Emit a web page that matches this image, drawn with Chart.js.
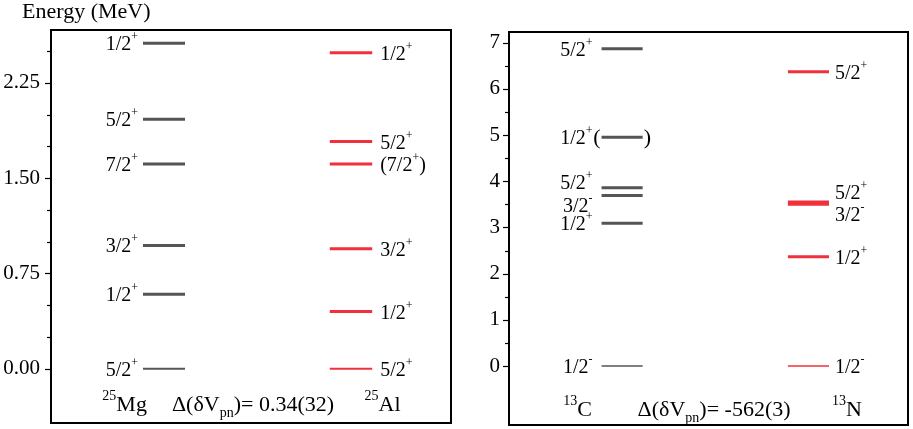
<!DOCTYPE html>
<html>
<head>
<meta charset="utf-8">
<script src="https://cdn.jsdelivr.net/npm/chart.js@4/dist/chart.umd.min.js"></script>
<style>
  body { margin: 0; background: #fff; }
  #wrap { position: relative; width: 913px; height: 429px; }
  canvas { position: absolute; top: 0; }
</style>
</head>
<body>
<div id="wrap">
  <canvas id="left" width="460" height="429" style="left:0"></canvas>
  <canvas id="right" width="453" height="429" style="left:460px"></canvas>
</div>
<script>
// level energies (MeV) and spin-parity labels
const mgEnergy = [0, 0.586, 0.970, 1.612, 1.964, 2.563];
const mgSpin = ['5/2+', '1/2+', '3/2+', '7/2+', '5/2+', '1/2+'];
const alEnergy = [0, 0.450, 0.944, 1.612, 1.788, 2.487];
const alSpin = ['5/2+', '1/2+', '3/2+', '(7/2+)', '5/2+', '1/2+'];

const cEnergy = [0, 3.09, 3.69, 3.86, 4.95, 6.87];
const cSpin = ['1/2-', '1/2+', '3/2-', '5/2+', '1/2+', '5/2+'];
const nEnergy = [0, 2.366, 3.50, 3.55, 6.37];
const nSpin = ['1/2-', '1/2+', '3/2-', '5/2+', '5/2+'];

const leftTicks = [0, 0.75, 1.5, 2.25];
const leftTickLabels = ['0.00', '0.75', '1.50', '2.25'];
const leftMinor = [0.25, 0.5, 1.0, 1.25, 1.75, 2.0, 2.5];
const rightTicks = [0, 1, 2, 3, 4, 5, 6, 7];
const rightTickLabels = ['0', '1', '2', '3', '4', '5', '6', '7'];
const rightMinor = [0.5, 1.5, 2.5, 3.5, 4.5, 5.5, 6.5];

const GRAY = 'rgb(85,85,85)';
const RED = 'rgb(240,48,58)';
const FONT = '"Liberation Serif", "Times New Roman", serif';

function drawParts(ctx, parts, x, y, align, size) {
  let w = 0;
  parts.forEach(p => {
    ctx.font = (p.m ? Math.round(size * 0.62) : size) + 'px ' + FONT;
    p.w = ctx.measureText(p.t).width;
    w += p.w;
  });
  let cx = align === 'right' ? x - w : align === 'center' ? x - w / 2 : x;
  ctx.textBaseline = 'alphabetic';
  ctx.textAlign = 'left';
  parts.forEach(p => {
    ctx.font = (p.m ? Math.round(size * 0.62) : size) + 'px ' + FONT;
    const dy = p.m === 'sup' ? -size * 0.5 : p.m === 'sub' ? size * 0.28 : 0;
    ctx.fillText(p.t, cx, y + dy);
    cx += p.w;
  });
}

function spinParts(s) {
  const m = s.match(/^(\(?)([\d/]+)([+-])(\)?)$/);
  return [{ t: m[1] + m[2] }, { t: m[3], m: 'sup' }, { t: m[4] }];
}

function levelSets(energies, x0, x1, color, groundWidth) {
  return energies.map((e, i) => ({
    data: [{ x: x0, y: e }, { x: x1, y: e }],
    borderColor: color,
    borderWidth: i === 0 ? groundWidth : 3,
    borderCapStyle: 'butt',
    pointRadius: 0,
    showLine: true
  }));
}

const levelPlugin = {
  id: 'levels',
  afterDraw(chart, args, o) {
    const { ctx, chartArea: a, scales: { x, y } } = chart;
    ctx.save();
    ctx.fillStyle = '#000';

    // frame
    ctx.strokeStyle = '#000';
    ctx.lineWidth = 2;
    ctx.strokeRect(a.left, a.top, a.right - a.left, a.bottom - a.top);

    // tick marks
    ctx.lineWidth = 1.2;
    o.major.forEach(v => {
      const py = Math.round(y.getPixelForValue(v)) + 0.5;
      ctx.beginPath(); ctx.moveTo(a.left - 6, py); ctx.lineTo(a.left, py); ctx.stroke();
    });
    o.minor.forEach(v => {
      const py = Math.round(y.getPixelForValue(v)) + 0.5;
      ctx.beginPath(); ctx.moveTo(a.left - 4, py); ctx.lineTo(a.left, py); ctx.stroke();
    });

    // spin labels
    const lo = o.lower, hi = o.upper;
    lo.energies.forEach((e, i) => {
      const py = y.getPixelForValue(e) + 7 + (lo.nudge[i] || 0);
      drawParts(ctx, spinParts(lo.spins[i]), x.getPixelForValue(o.xl[0]) - lo.gap, py, 'right', 20);
      if (lo.bracket === i) {
        ctx.font = '22px ' + FONT;
        ctx.textAlign = 'right';
        const by = y.getPixelForValue(e) + 7;
        ctx.fillText('(', x.getPixelForValue(o.xl[0]) - 1, by);
        ctx.textAlign = 'left';
        ctx.fillText(')', x.getPixelForValue(o.xl[1]) + 1, by);
      }
    });
    hi.energies.forEach((e, i) => {
      const py = y.getPixelForValue(e) + 7 + (hi.nudge[i] || 0);
      drawParts(ctx, spinParts(hi.spins[i]), x.getPixelForValue(o.xr[1]) + hi.gap, py, 'left', 20);
    });

    // nucleus names and Coulomb term
    o.bottom.forEach(b => {
      drawParts(ctx, b.parts, x.getPixelForValue(b.x), y.getPixelForValue(b.y), 'center', 22);
    });

    if (o.title) {
      ctx.font = '22px ' + FONT;
      ctx.textAlign = 'left';
      ctx.fillText(o.title, 22, 18);
    }
    ctx.restore();
  }
};

function makePanel(id, cfg) {
  return new Chart(document.getElementById(id), {
    type: 'scatter',
    data: {
      datasets: [
        ...levelSets(cfg.lower.energies, cfg.xl[0], cfg.xl[1], GRAY, cfg.lower.ground),
        ...levelSets(cfg.upper.energies, cfg.xr[0], cfg.xr[1], RED, cfg.upper.ground)
      ]
    },
    options: {
      responsive: false,
      animation: false,
      events: [],
      layout: { padding: cfg.padding },
      plugins: { legend: { display: false }, tooltip: { enabled: false }, levels: cfg },
      scales: {
        x: { type: 'linear', min: 0, max: 1, display: false },
        y: {
          type: 'linear', min: cfg.yMin, max: cfg.yMax,
          grid: { display: false, drawTicks: false },
          border: { display: false },
          afterBuildTicks: s => { s.ticks = cfg.major.map(v => ({ value: v })); },
          afterFit: s => { s.width = cfg.axisWidth; s.paddingTop = 0; s.paddingBottom = 0; },
          ticks: {
            padding: cfg.tickPad,
            color: '#000',
            font: { family: FONT, size: 21 },
            callback: (v, i) => cfg.tickLabels[i]
          }
        }
      }
    },
    plugins: [levelPlugin]
  });
}

makePanel('left', {
  padding: { top: 30, right: 9, bottom: 6, left: 0 },
  axisWidth: 51, tickPad: 11,
  yMin: -0.428, yMax: 2.667,
  major: leftTicks, tickLabels: leftTickLabels, minor: leftMinor,
  xl: [0.23, 0.335], xr: [0.697, 0.803],
  lower: { energies: mgEnergy, spins: mgSpin, ground: 2, gap: 5, nudge: {} },
  upper: { energies: alEnergy, spins: alSpin, ground: 2, gap: 8, nudge: {} },
  title: 'Energy (MeV)',
  bottom: [
    { x: 0.184, y: -0.333, parts: [{ t: '25', m: 'sup' }, { t: 'Mg' }] },
    { x: 0.505, y: -0.333, parts: [{ t: 'Δ(δV' }, { t: 'pn', m: 'sub' }, { t: ')= 0.34(32)' }] },
    { x: 0.829, y: -0.333, parts: [{ t: '25', m: 'sup' }, { t: 'Al' }] }
  ]
});

makePanel('right', {
  padding: { top: 32, right: 5, bottom: 4, left: 0 },
  axisWidth: 49, tickPad: 9,
  yMin: -1.277, yMax: 7.23,
  major: rightTicks, tickLabels: rightTickLabels, minor: rightMinor,
  xl: [0.232, 0.335], xr: [0.699, 0.802],
  lower: { energies: cEnergy, spins: cSpin, ground: 1.5, gap: 9, nudge: { 2: 9, 3: -6 }, bracket: 4 },
  upper: { energies: nEnergy, spins: nSpin, ground: 1.5, gap: 6, nudge: { 2: 10, 3: -10 } },
  bottom: [
    { x: 0.172, y: -1.075, parts: [{ t: '13', m: 'sup' }, { t: 'C' }] },
    { x: 0.514, y: -1.075, parts: [{ t: 'Δ(δV' }, { t: 'pn', m: 'sub' }, { t: ')= -562(3)' }] },
    { x: 0.847, y: -1.075, parts: [{ t: '13', m: 'sup' }, { t: 'N' }] }
  ]
});
</script>
</body>
</html>
